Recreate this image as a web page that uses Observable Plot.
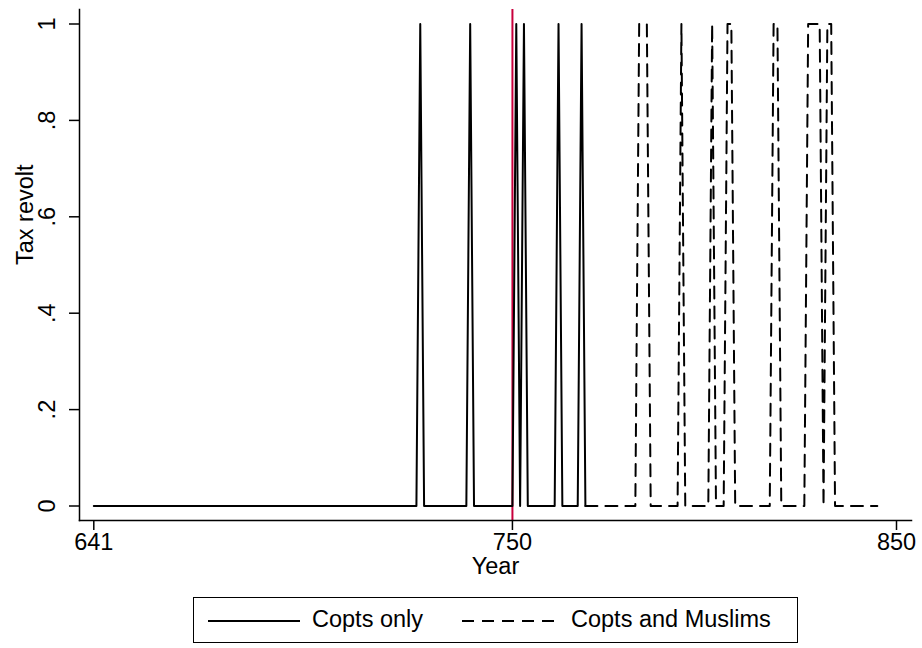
<!DOCTYPE html>
<html>
<head>
<meta charset="utf-8">
<script src="https://cdn.jsdelivr.net/npm/d3@7"></script>
<script src="https://cdn.jsdelivr.net/npm/@observablehq/plot@0.6"></script>
<style>
  body { margin: 0; background: #fff; font-family: "Liberation Sans", Arial, Helvetica, sans-serif; }
  #wrap { position: relative; width: 922px; height: 648px; }
  #legend { position: absolute; left: 193px; top: 597px; width: 605px; height: 46px;
            border: 1.5px solid #000; box-sizing: border-box; font-size: 23.5px; }
  #legend .item { position: absolute; top: 0; height: 43px; line-height: 43px; white-space: nowrap; }
  #legend svg { position: absolute; top: 21px; }
</style>
</head>
<body>
<div id="wrap">
  <div id="chart"></div>
  <div id="legend"></div>
</div>
<script>
// Annual tax-revolt indicator, split into two periods
const firstYear = 641;
const splitYear = 769;
const lastYear = 845;
const coptRevoltYears = [726, 739, 751, 753, 762, 768];
const jointRevoltYears = [783, 784, 785, 794, 802, 806, 807, 818, 819, 827, 828, 829, 830, 832, 833];
const markerYear = 750;
const xTicks = [641, 750, 850];
const yTicks = [0, 0.2, 0.4, 0.6, 0.8, 1];
const yTickLabels = ["0", ".2", ".4", ".6", ".8", "1"];
const seriesNames = ["Copts only", "Copts and Muslims"];
const xTitle = "Year";
const yTitle = "Tax revolt";

const annual = (from, to, revoltYears) =>
  d3.range(from, to + 1).map(year => ({year, revolt: revoltYears.includes(year) ? 1 : 0}));

const coptsOnly = annual(firstYear, splitYear, coptRevoltYears);
const coptsAndMuslims = annual(splitYear, lastYear, jointRevoltYears);

const FONT = '"Liberation Sans", Arial, Helvetica, sans-serif';
const DASH = "12,8";

const chart = Plot.plot({
  width: 922,
  height: 585,
  marginLeft: 79,
  marginRight: 11,
  marginTop: 9,
  marginBottom: 65,
  style: {fontFamily: FONT, fontSize: "23.5px", color: "#000", background: "#fff", overflow: "visible"},
  x: {domain: [641, 850], insetLeft: 14.3, insetRight: 15},
  y: {domain: [0, 1], insetTop: 14.5, insetBottom: 14.5},
  marks: [
    Plot.ruleX([markerYear], {stroke: "#c8003c", strokeWidth: 2}),
    Plot.line(coptsOnly, {x: "year", y: "revolt", stroke: "#000", strokeWidth: 2}),
    Plot.line(coptsAndMuslims, {x: "year", y: "revolt", stroke: "#000", strokeWidth: 2, strokeDasharray: DASH}),
    Plot.axisX({ticks: xTicks, tickSize: 10, tickPadding: 3, label: null, strokeWidth: 1.5}),
    Plot.axisY({ticks: yTicks, tickFormat: d => yTickLabels[yTicks.indexOf(d)],
                tickSize: 10, tickRotate: -90, tickPadding: 15, label: null, strokeWidth: 1.5}),
    Plot.frame({anchor: "left", strokeWidth: 1.5}),
    Plot.frame({anchor: "bottom", strokeWidth: 1.5}),
    Plot.text([yTitle], {frameAnchor: "left", rotate: -90, dx: -54, fill: "#000"}),
    Plot.text([xTitle], {frameAnchor: "bottom", dy: 53, fill: "#000"})
  ]
});
document.getElementById("chart").append(chart);

// Legend below the plot
const legend = d3.select("#legend");
const items = [
  {name: seriesNames[0], dash: null, lineLeft: 14, textLeft: 118},
  {name: seriesNames[1], dash: DASH, lineLeft: 268, textLeft: 377}
];
for (const it of items) {
  const svg = legend.append("svg").attr("width", 92).attr("height", 4)
    .style("left", it.lineLeft + "px");
  svg.append("line").attr("x1", 0).attr("x2", 92).attr("y1", 2).attr("y2", 2)
    .attr("stroke", "#000").attr("stroke-width", 2)
    .attr("stroke-dasharray", it.dash);
  legend.append("div").attr("class", "item").style("left", it.textLeft + "px").text(it.name);
}
</script>
</body>
</html>
